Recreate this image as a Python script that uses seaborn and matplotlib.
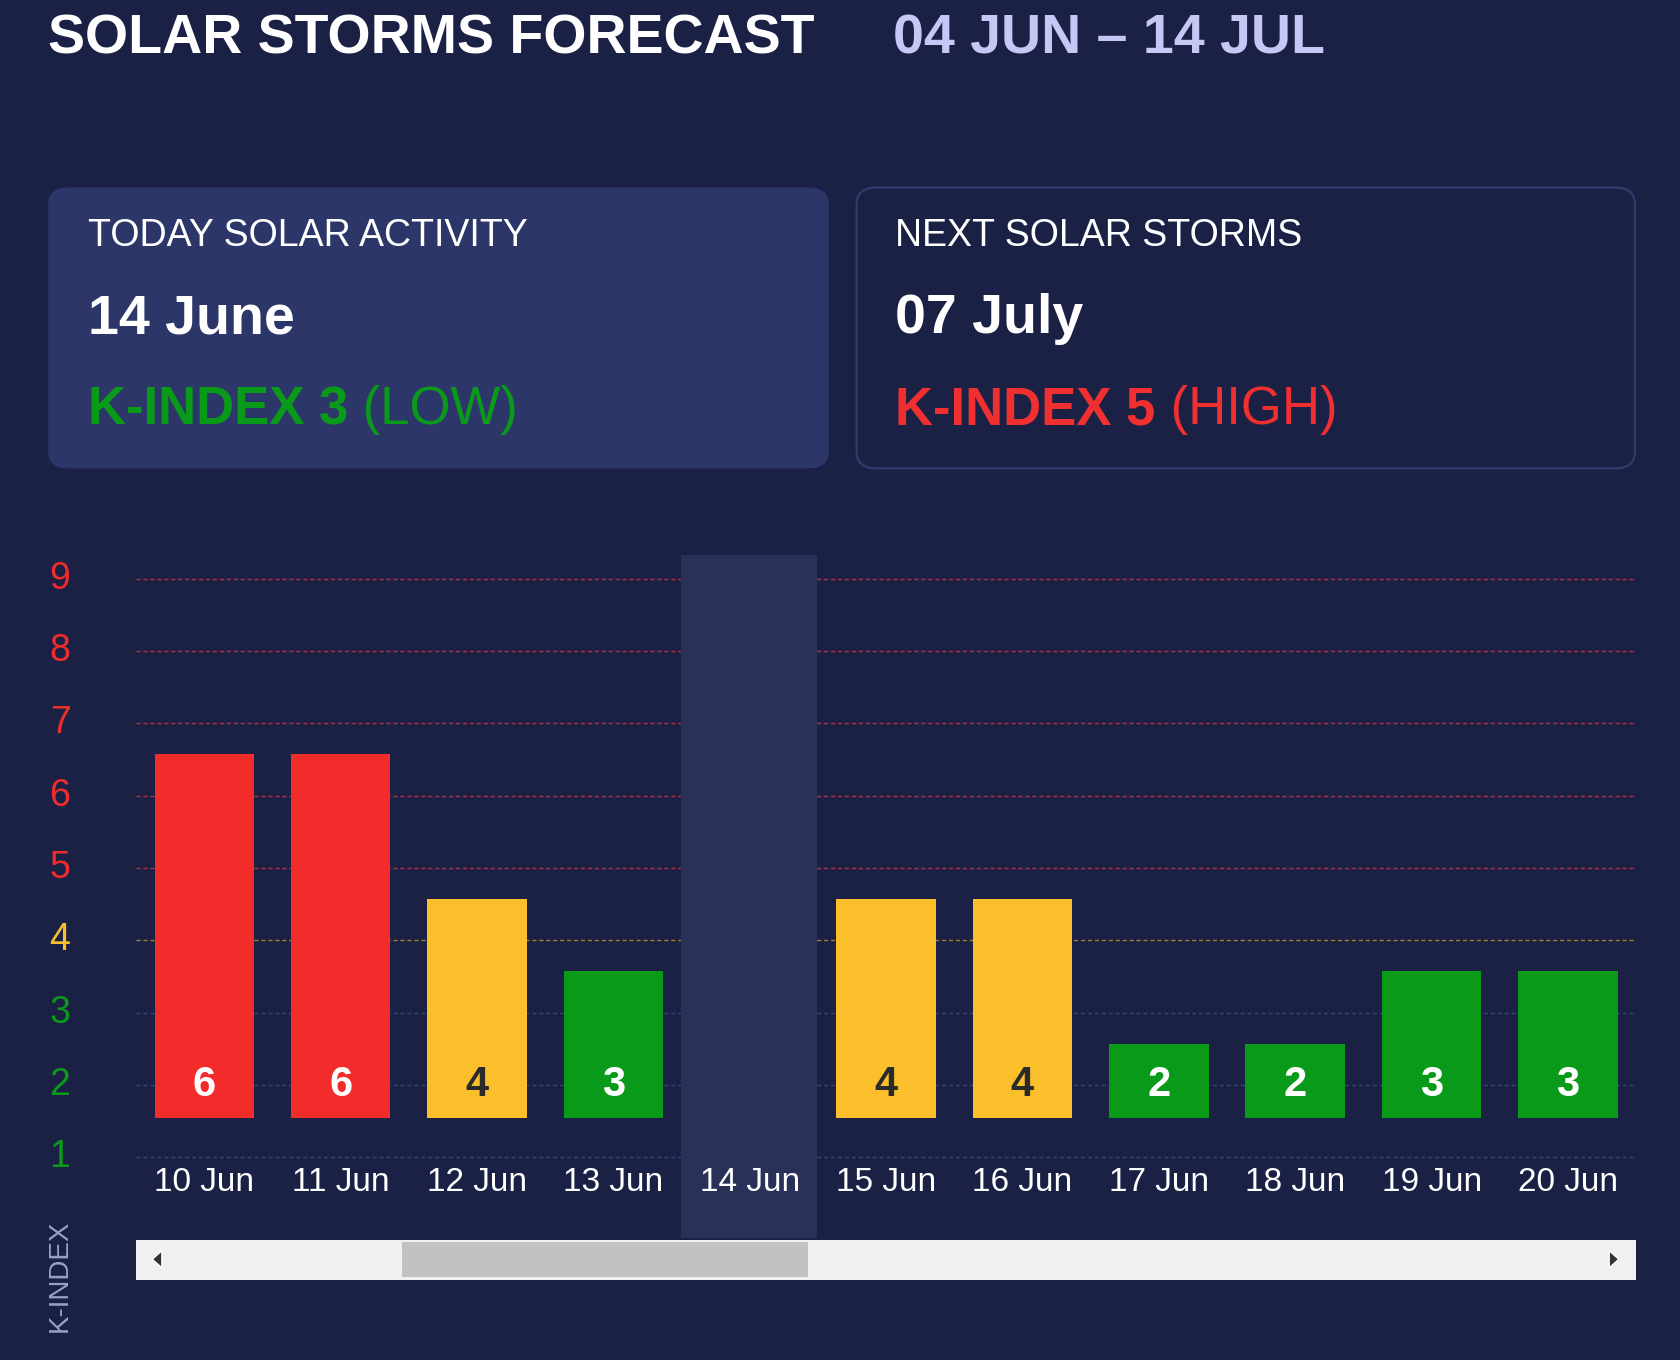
import numpy as np
import pandas as pd
import seaborn as sns
import matplotlib
matplotlib.use("Agg")
import matplotlib.pyplot as plt
from matplotlib.patches import FancyBboxPatch, Rectangle, Polygon

days = ["10 Jun", "11 Jun", "12 Jun", "13 Jun", "14 Jun", "15 Jun", "16 Jun", "17 Jun", "18 Jun", "19 Jun", "20 Jun"]
kindex = [6, 6, 4, 3, 3, 4, 4, 2, 2, 3, 3]
yticks = [1, 2, 3, 4, 5, 6, 7, 8, 9]

BG = "#1b2145"
RED = "#f22b2b"; YEL = "#fbbf2c"; GRN = "#0a9a1a"
def col(v):
    return RED if v >= 5 else (YEL if v == 4 else GRN)

W, H = 1568, 1269
fx = lambda x: x / W
fy = lambda y: 1 - y / H

sns.set_theme(style="white")
plt.rcParams["font.family"] = "Liberation Sans"
fig = plt.figure(figsize=(16.81, 13.6), dpi=100, facecolor=BG)

fig.text(fx(45), fy(37), "SOLAR STORMS FORECAST", color="white", fontsize=40, fontweight="bold", va="center")
fig.text(fx(833), fy(37), "04 JUN – 14 JUL", color="#c5c8f5", fontsize=40, fontweight="bold", va="center")

# cards
fig.patches.append(FancyBboxPatch((fx(45), fy(437)), fx(773 - 45), (437 - 175) / H,
                                  boxstyle="round,pad=0,rounding_size=0.012", transform=fig.transFigure,
                                  facecolor="#2d3668", edgecolor="none"))
fig.patches.append(FancyBboxPatch((fx(799), fy(437)), fx(1525 - 799), (437 - 175) / H,
                                  boxstyle="round,pad=0,rounding_size=0.012", transform=fig.transFigure,
                                  facecolor=BG, edgecolor="#343d70", linewidth=1.5))
for x0, t1, t2, k, lvl, c in [(82, "TODAY SOLAR ACTIVITY", "14 June", "K-INDEX 3", " (LOW)", GRN),
                              (835, "NEXT SOLAR STORMS", "07 July", "K-INDEX 5", " (HIGH)", "#f03030")]:
    fig.text(fx(x0), fy(220), t1, color="white", fontsize=27, va="center")
    fig.text(fx(x0), fy(298), t2, color="white", fontsize=40, fontweight="bold", va="center")
    t = fig.text(fx(x0), fy(383), k, color=c, fontsize=38, fontweight="bold", va="center")
    fig.canvas.draw()
    bb = t.get_window_extent()
    fig.text(bb.x1 / fig.bbox.width, fy(383), lvl, color=c, fontsize=38, va="center")

# highlight column
fig.patches.append(Rectangle((fx(635), fy(1155)), fx(762 - 635), (1155 - 518) / H,
                             transform=fig.transFigure, facecolor="#2a3158", edgecolor="none", zorder=0))

ax = fig.add_axes([fx(127), fy(1090), fx(1526 - 127), (1090 - 519.75) / H])
ax.patch.set_alpha(0)
df = pd.DataFrame({"day": days, "k": kindex})
sns.barplot(data=df, x="day", y="k", hue="day", palette=[col(v) for v in kindex],
            legend=False, width=0.73, ax=ax, zorder=3, saturation=1)
for p, v in zip(ax.patches, kindex):
    p.set_y(1.55)
    p.set_height(v + 0.57 - 1.55)
    p.set_edgecolor("none")
    ax.text(p.get_x() + p.get_width() / 2, 2.0, str(v), ha="center", va="center",
            color="#2a2a2a" if v == 4 else "white", fontsize=30, fontweight="bold", zorder=4)
ax.set_ylim(0.85, 9.3)
ax.set_xlim(-0.5, 10.5)
for y in yticks:
    c = "#b03040" if y >= 5 else ("#a08030" if y == 4 else "#3a4270")
    ax.axhline(y, color=c, lw=1, ls=(0, (3, 2)), zorder=1)
    fig.text(fx(56), fy(1080 - (y - 1) * 67.5), str(y), color=col(y) if y != 4 else YEL,
             fontsize=27, ha="center", va="center")
for s in ax.spines.values():
    s.set_visible(False)
ax.set_yticks([])
ax.set_xticks([])
ax.set_xlabel(""); ax.set_ylabel("")
for i, d in enumerate(days):
    fig.text(fx(127 + 127.2 * (i + 0.5)), fy(1103), d, color="white", fontsize=24, ha="center", va="center")

fig.text(fx(56), fy(1190), "K-INDEX", color="#9aa0c8", fontsize=20, rotation=90, ha="center", va="center")

# scrollbar
fig.patches.append(Rectangle((fx(127), fy(1194)), fx(1526 - 127), 37 / H, transform=fig.transFigure,
                             facecolor="#f0f0f0", edgecolor="none"))
fig.patches.append(Rectangle((fx(375), fy(1192)), fx(754 - 375), 33 / H, transform=fig.transFigure,
                             facecolor="#c2c2c2", edgecolor="none"))
fig.patches.append(Polygon([(fx(142), fy(1175)), (fx(151), fy(1167)), (fx(151), fy(1183))],
                           transform=fig.transFigure, facecolor="#333333"))
fig.patches.append(Polygon([(fx(1510), fy(1175)), (fx(1501), fy(1167)), (fx(1501), fy(1183))],
                           transform=fig.transFigure, facecolor="#333333"))

fig.savefig("out.png", dpi=100, facecolor=BG)
